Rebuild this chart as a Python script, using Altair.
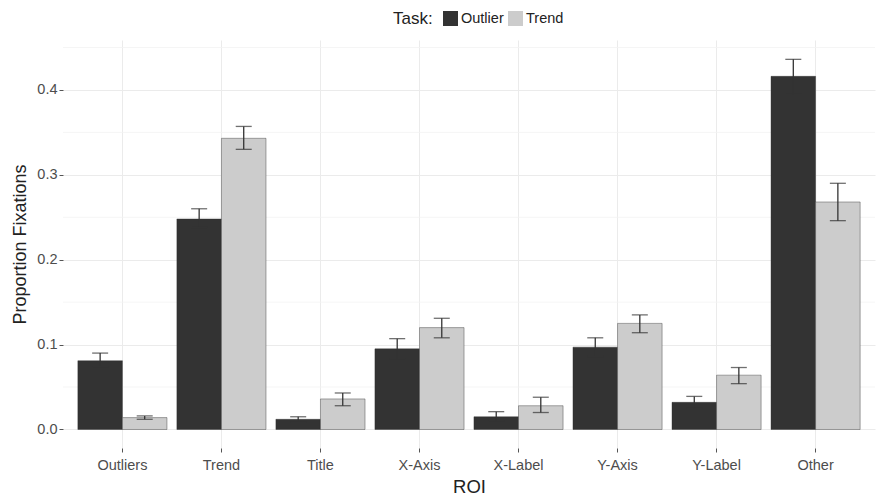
import altair as alt
import pandas as pd

rois = ["Outliers", "Trend", "Title", "X-Axis", "X-Label", "Y-Axis", "Y-Label", "Other"]
tasks = ["Outlier", "Trend"]

outlier_mean = [0.081, 0.248, 0.012, 0.095, 0.015, 0.097, 0.032, 0.416]
outlier_lo = [0.074, 0.238, 0.009, 0.083, 0.010, 0.086, 0.025, 0.395]
outlier_hi = [0.090, 0.260, 0.015, 0.107, 0.021, 0.108, 0.039, 0.436]

trend_mean = [0.014, 0.343, 0.036, 0.120, 0.028, 0.125, 0.064, 0.268]
trend_lo = [0.012, 0.330, 0.028, 0.108, 0.020, 0.114, 0.054, 0.246]
trend_hi = [0.016, 0.357, 0.043, 0.131, 0.038, 0.135, 0.073, 0.290]

major_breaks = [0.0, 0.1, 0.2, 0.3, 0.4]
minor_breaks = [0.05, 0.15, 0.25, 0.35, 0.45]

rows = []
for i, r in enumerate(rois):
    rows.append({"ROI": r, "Task": "Outlier", "mean": outlier_mean[i],
                 "lo": outlier_lo[i], "hi": outlier_hi[i]})
    rows.append({"ROI": r, "Task": "Trend", "mean": trend_mean[i],
                 "lo": trend_lo[i], "hi": trend_hi[i]})
df = pd.DataFrame(rows)
minor_df = pd.DataFrame({"v": minor_breaks})

FONT = "Liberation Sans"

yscale = alt.Scale(domain=[-0.0218, 0.4588], nice=False, zero=False)
xscale = alt.Scale(domain=rois, paddingInner=0.1, paddingOuter=0.15)
offscale = alt.Scale(domain=tasks, paddingInner=0, paddingOuter=0)

x_enc = alt.X("ROI:N", scale=xscale, sort=rois, title="ROI",
              axis=alt.Axis(labelAngle=0, grid=True, bandPosition=0.5,
                            gridColor="#ebebeb", gridWidth=1,
                            ticks=True, tickSize=4, tickColor="#555555",
                            tickWidth=1, domain=False,
                            labelFont=FONT, labelFontSize=14.5,
                            labelColor="#4d4d4d", labelPadding=6,
                            titleFont=FONT, titleFontSize=18.5,
                            titleFontWeight="normal", titleColor="#222222",
                            titlePadding=6))
y_axis = alt.Axis(values=major_breaks, format=".1f", grid=True,
                  gridColor="#ebebeb", gridWidth=1,
                  ticks=True, tickSize=4, tickColor="#555555", tickWidth=1,
                  domain=False, labelFont=FONT, labelFontSize=14.5,
                  labelColor="#4d4d4d", labelPadding=2,
                  titleFont=FONT, titleFontSize=18, titleFontWeight="normal",
                  titleColor="#222222", titlePadding=7)

minor = alt.Chart(minor_df).mark_rule(color="#f2f2f2", strokeWidth=0.8).encode(
    y=alt.Y("v:Q", scale=yscale)
)

bars = alt.Chart(df).mark_bar(stroke="#2a2a2a", strokeWidth=0.4).encode(
    x=x_enc,
    xOffset=alt.XOffset("Task:N", scale=offscale, sort=tasks),
    y=alt.Y("mean:Q", scale=yscale, axis=y_axis, title="Proportion Fixations"),
    y2=alt.datum(0),
    color=alt.Color("Task:N", sort=tasks,
                    scale=alt.Scale(domain=tasks, range=["#333333", "#cccccc"]),
                    legend=alt.Legend(title="Task:", orient="none",
                                      legendX=330, legendY=-29,
                                      direction="horizontal",
                                      titleOrient="left", titleFont=FONT,
                                      titleFontSize=17,
                                      titleFontWeight="normal",
                                      titleColor="#222222",
                                      titleBaseline="middle",
                                      titlePadding=10,
                                      labelFont=FONT, labelFontSize=14.5,
                                      labelColor="#222222", labelOffset=3,
                                      symbolType="square", symbolSize=225,
                                      symbolStrokeWidth=0, columnPadding=4,
                                      padding=0)),
)

err = alt.Chart(df).mark_rule(color="#333333", strokeWidth=1.3).encode(
    x=alt.X("ROI:N", scale=xscale, sort=rois),
    xOffset=alt.XOffset("Task:N", scale=offscale, sort=tasks),
    y=alt.Y("lo:Q", scale=yscale),
    y2="hi:Q",
)

cap_lo = alt.Chart(df).mark_tick(color="#333333", thickness=1.3, size=16).encode(
    x=alt.X("ROI:N", scale=xscale, sort=rois),
    xOffset=alt.XOffset("Task:N", scale=offscale, sort=tasks),
    y=alt.Y("lo:Q", scale=yscale),
)
cap_hi = alt.Chart(df).mark_tick(color="#333333", thickness=1.3, size=16).encode(
    x=alt.X("ROI:N", scale=xscale, sort=rois),
    xOffset=alt.XOffset("Task:N", scale=offscale, sort=tasks),
    y=alt.Y("hi:Q", scale=yscale),
)

chart = alt.layer(minor, bars, err, cap_lo, cap_hi).properties(
    width=812, height=408,
    autosize=alt.AutoSizeParams(type="none"),
    padding={"left": 55, "top": 32, "right": 1, "bottom": 50},
    background="white",
).configure_view(stroke=None)

chart.save("out.html", embed_options={"renderer": "svg", "actions": False})
